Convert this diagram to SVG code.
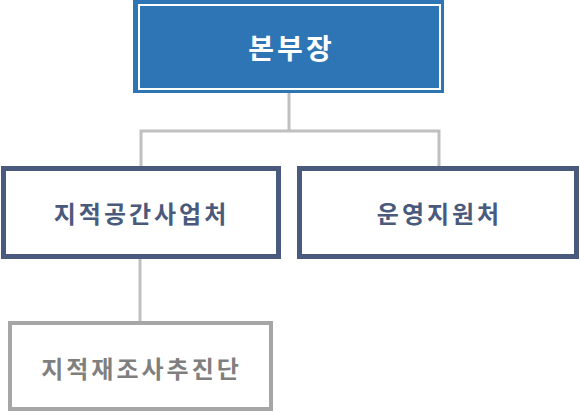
<svg xmlns="http://www.w3.org/2000/svg" width="580" height="414" viewBox="0 0 580 414">
<style>
text{font-family:"Noto Sans CJK KR","Noto Sans",sans-serif;font-weight:bold;text-anchor:middle;dominant-baseline:central;letter-spacing:3px}
.mid{fill:#fff;stroke:#4a5a7c;stroke-width:5}
.midt{fill:#4a5a7c;font-size:24px}
.con{fill:none;stroke:#c0c0c0;stroke-width:3}
</style>
<rect width="580" height="414" fill="#fff"/>
<g id="connectors">
<path class="con" d="M289 93V131M141 166V131H439V166M140 259V322"/>
</g>
<g id="n1">
<rect x="133" y="0" width="311" height="93" fill="#2e75b6"/>
<rect x="139" y="5" width="301" height="84" fill="none" stroke="#fff" stroke-width="2"/>
<text x="291.5" y="47" fill="#fff" font-size="28">본부장</text>
</g>
<g id="n2">
<rect class="mid" x="3.5" y="168.5" width="275" height="88"/>
<text class="midt" x="141.5" y="212">지적공간사업처</text>
</g>
<g id="n3">
<rect class="mid" x="299.5" y="168.5" width="277" height="88"/>
<text class="midt" x="439.5" y="212">운영지원처</text>
</g>
<g id="n4">
<rect x="10" y="323" width="261" height="86" fill="#fff" stroke="#a6a6a6" stroke-width="4"/>
<text x="141.5" y="367" fill="#7f7f7f" font-size="24">지적재조사추진단</text>
</g>
</svg>
